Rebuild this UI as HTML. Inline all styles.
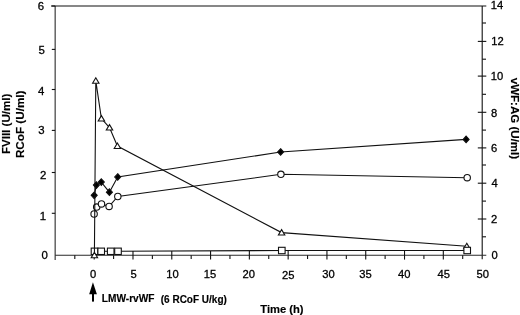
<!DOCTYPE html>
<html><head><meta charset="utf-8"><style>
html,body{margin:0;padding:0;background:#fff;}
svg{display:block;}
text{font-family:"Liberation Sans",sans-serif;fill:#000;stroke:#000;stroke-width:0.3px;}
text.b{stroke-width:0.15px;}
svg{will-change:transform;}
</style></head><body>
<svg width="520" height="315" viewBox="0 0 520 315">
<rect width="520" height="315" fill="#fff"/>
<g stroke="#111" stroke-width="1.1" fill="none">
<line x1="55.15" y1="6.0" x2="55.15" y2="260" stroke-width="1.1" stroke="#2a2a2a" />
<line x1="51" y1="6.0" x2="486.3" y2="6.0" />
<line x1="482.2" y1="6.0" x2="482.2" y2="259.2" />
<line x1="55.15" y1="255.25" x2="486.3" y2="255.25" stroke-width="1.15" stroke="#2a2a2a" />
<line x1="74.81" y1="255.25" x2="74.81" y2="258.9" />
<line x1="94.20" y1="251" x2="94.20" y2="259.6" />
<line x1="113.59" y1="255.25" x2="113.59" y2="258.9" />
<line x1="132.99" y1="251" x2="132.99" y2="259.6" />
<line x1="152.38" y1="255.25" x2="152.38" y2="258.9" />
<line x1="171.78" y1="251" x2="171.78" y2="259.6" />
<line x1="191.18" y1="255.25" x2="191.18" y2="258.9" />
<line x1="210.57" y1="251" x2="210.57" y2="259.6" />
<line x1="229.96" y1="255.25" x2="229.96" y2="258.9" />
<line x1="249.36" y1="251" x2="249.36" y2="259.6" />
<line x1="268.75" y1="255.25" x2="268.75" y2="258.9" />
<line x1="288.15" y1="251" x2="288.15" y2="259.6" />
<line x1="307.55" y1="255.25" x2="307.55" y2="258.9" />
<line x1="326.94" y1="251" x2="326.94" y2="259.6" />
<line x1="346.33" y1="255.25" x2="346.33" y2="258.9" />
<line x1="365.73" y1="251" x2="365.73" y2="259.6" />
<line x1="385.12" y1="255.25" x2="385.12" y2="258.9" />
<line x1="404.52" y1="251" x2="404.52" y2="259.6" />
<line x1="423.91" y1="255.25" x2="423.91" y2="258.9" />
<line x1="443.31" y1="251" x2="443.31" y2="259.6" />
<line x1="462.70" y1="255.25" x2="462.70" y2="258.9" />
<line x1="51.8" y1="6.0" x2="55.15" y2="6.0" />
<line x1="51.8" y1="49.4" x2="55.15" y2="49.4" />
<line x1="51.8" y1="89.5" x2="55.15" y2="89.5" />
<line x1="51.8" y1="130.4" x2="55.15" y2="130.4" />
<line x1="51.8" y1="172.5" x2="55.15" y2="172.5" />
<line x1="51.8" y1="213.3" x2="55.15" y2="213.3" />
<line x1="477.8" y1="41.4" x2="486.3" y2="41.4" />
<line x1="477.8" y1="76.1" x2="486.3" y2="76.1" />
<line x1="477.8" y1="112.3" x2="486.3" y2="112.3" />
<line x1="477.8" y1="147.9" x2="486.3" y2="147.9" />
<line x1="477.8" y1="183.2" x2="486.3" y2="183.2" />
<line x1="477.8" y1="219.0" x2="486.3" y2="219.0" />
<line x1="482.2" y1="23.0" x2="486" y2="23.0" />
<line x1="482.2" y1="59.2" x2="486" y2="59.2" />
<line x1="482.2" y1="94.3" x2="486" y2="94.3" />
<line x1="482.2" y1="130.1" x2="486" y2="130.1" />
<line x1="482.2" y1="165.0" x2="486" y2="165.0" />
<line x1="482.2" y1="201.1" x2="486" y2="201.1" />
<line x1="482.2" y1="236.8" x2="486" y2="236.8" />
<polyline fill="none" points="94.5,251.3 101.2,251.3 110.7,251.3 118.0,251.3 281.8,250.5 467.2,250.5" />
<rect x="91.20" y="248.10" width="6.6" height="6.4" fill="#fff" />
<polyline fill="none" points="94.1,214.0 96.7,207.1 101.5,203.9 109.1,206.4 117.8,196.5 280.9,174.3 467.2,177.7" />
<circle cx="94.1" cy="214.0" r="3.2" fill="#fff" />
<circle cx="96.7" cy="207.1" r="3.2" fill="#fff" />
<circle cx="101.5" cy="203.9" r="3.2" fill="#fff" />
<circle cx="109.1" cy="206.4" r="3.2" fill="#fff" />
<circle cx="117.8" cy="196.5" r="3.2" fill="#fff" />
<circle cx="280.9" cy="174.3" r="3.2" fill="#fff" />
<circle cx="467.2" cy="177.7" r="3.2" fill="#fff" />
<polyline fill="none" points="94.2,195.3 96.4,185.1 101.3,182.1 109.4,192.2 117.7,177.0 280.6,152.0 466.1,139.4" />
<polygon points="94.2,192.0 97.2,195.3 94.2,198.60000000000002 91.2,195.3" fill="#000" />
<polygon points="96.4,181.79999999999998 99.4,185.1 96.4,188.4 93.4,185.1" fill="#000" />
<polygon points="101.3,178.79999999999998 104.3,182.1 101.3,185.4 98.3,182.1" fill="#000" />
<polygon points="109.4,188.89999999999998 112.4,192.2 109.4,195.5 106.4,192.2" fill="#000" />
<polygon points="117.7,173.7 120.7,177.0 117.7,180.3 114.7,177.0" fill="#000" />
<polygon points="280.6,148.7 283.6,152.0 280.6,155.3 277.6,152.0" fill="#000" />
<polygon points="466.1,136.1 469.1,139.4 466.1,142.70000000000002 463.1,139.4" fill="#000" />
<polyline fill="none" points="94.4,255.3 95.8,80.8 101.4,118.6 109.5,127.6 117.4,146.0 281.6,232.6 466.8,246.3" />
<polygon points="94.4,252.33 97.60,257.73 91.20,257.73" fill="#fff" />
<polygon points="95.8,77.83 99.00,83.23 92.60,83.23" fill="#fff" />
<polygon points="101.4,115.63 104.60,121.03 98.20,121.03" fill="#fff" />
<polygon points="109.5,124.63 112.70,130.03 106.30,130.03" fill="#fff" />
<polygon points="117.4,143.03 120.60,148.43 114.20,148.43" fill="#fff" />
<polygon points="281.6,229.63 284.80,235.03 278.40,235.03" fill="#fff" />
<polygon points="466.8,243.33 470.00,248.73 463.60,248.73" fill="#fff" />
<rect x="97.90" y="248.10" width="6.6" height="6.4" fill="#fff" />
<rect x="107.40" y="248.10" width="6.6" height="6.4" fill="#fff" />
<rect x="114.70" y="248.10" width="6.6" height="6.4" fill="#fff" />
<rect x="278.50" y="247.30" width="6.6" height="6.4" fill="#fff" />
<rect x="463.90" y="247.30" width="6.6" height="6.4" fill="#fff" />
<polygon points="92.95,282.3 89.2,294.2 96.9,294.2" fill="#000" stroke="none" />
<rect x="92" y="293" width="2" height="8.6" fill="#000" stroke="none" />
</g>
<g>
<text id="l6" x="40.80" y="9.75" font-size="11.4" font-weight="normal" class="n" text-anchor="middle" >6</text>
<text id="l5" x="41.65" y="54.35" font-size="11.4" font-weight="normal" class="n" text-anchor="middle" >5</text>
<text id="l4" x="41.15" y="95.05" font-size="11.4" font-weight="normal" class="n" text-anchor="middle" >4</text>
<text id="l3" x="41.40" y="133.75" font-size="11.4" font-weight="normal" class="n" text-anchor="middle" >3</text>
<text id="l2" x="43.10" y="179.00" font-size="11.4" font-weight="normal" class="n" text-anchor="middle" >2</text>
<text id="l1" x="42.85" y="219.55" font-size="11.4" font-weight="normal" class="n" text-anchor="middle" >1</text>
<text id="l0" x="44.60" y="258.70" font-size="11.4" font-weight="normal" class="n" text-anchor="middle" >0</text>
<text id="r14" x="497.00" y="8.75" font-size="11.2" font-weight="normal" class="n" text-anchor="middle" >14</text>
<text id="r12" x="497.55" y="44.55" font-size="11.2" font-weight="normal" class="n" text-anchor="middle" >12</text>
<text id="r10" x="496.95" y="79.90" font-size="11.2" font-weight="normal" class="n" text-anchor="middle" >10</text>
<text id="r8" x="494.05" y="116.70" font-size="11.2" font-weight="normal" class="n" text-anchor="middle" >8</text>
<text id="r6" x="494.05" y="152.10" font-size="11.2" font-weight="normal" class="n" text-anchor="middle" >6</text>
<text id="r4" x="494.55" y="186.80" font-size="11.2" font-weight="normal" class="n" text-anchor="middle" >4</text>
<text id="r2" x="494.05" y="223.00" font-size="11.2" font-weight="normal" class="n" text-anchor="middle" >2</text>
<text id="r0" x="494.50" y="258.85" font-size="11.2" font-weight="normal" class="n" text-anchor="middle" >0</text>
<text id="x0" x="93.05" y="278.00" font-size="11.2" font-weight="normal" class="n" text-anchor="middle" >0</text>
<text id="x5" x="133.65" y="278.00" font-size="11.2" font-weight="normal" class="n" text-anchor="middle" >5</text>
<text id="x10" x="172.55" y="278.00" font-size="11.2" font-weight="normal" class="n" text-anchor="middle" >10</text>
<text id="x15" x="210.00" y="278.10" font-size="11.2" font-weight="normal" class="n" text-anchor="middle" >15</text>
<text id="x20" x="248.75" y="278.10" font-size="11.2" font-weight="normal" class="n" text-anchor="middle" >20</text>
<text id="x25" x="288.25" y="279.20" font-size="11.2" font-weight="normal" class="n" text-anchor="middle" >25</text>
<text id="x30" x="328.45" y="278.10" font-size="11.2" font-weight="normal" class="n" text-anchor="middle" >30</text>
<text id="x35" x="365.55" y="278.10" font-size="11.2" font-weight="normal" class="n" text-anchor="middle" >35</text>
<text id="x40" x="404.35" y="277.85" font-size="11.2" font-weight="normal" class="n" text-anchor="middle" >40</text>
<text id="x45" x="443.65" y="277.85" font-size="11.2" font-weight="normal" class="n" text-anchor="middle" >45</text>
<text id="x50" x="482.65" y="277.85" font-size="11.2" font-weight="normal" class="n" text-anchor="middle" >50</text>
<text id="yt1" x="0" y="0" transform="translate(10.45,123.90) rotate(-90)" font-size="11.55" font-weight="bold" class="b" text-anchor="middle" >FVIII (U/ml)</text>
<text id="yt2" x="0" y="0" transform="translate(23.85,124.30) rotate(-90)" font-size="11.7" font-weight="bold" class="b" text-anchor="middle" >RCoF (U/ml)</text>
<text id="yt3" x="0" y="0" transform="translate(510.85,118.45) rotate(90)" font-size="11.55" font-weight="bold" class="b" text-anchor="middle" >vWF:AG (U/ml)</text>
<text id="time" x="281.95" y="312.85" font-size="11.2" font-weight="bold" class="b" text-anchor="middle" >Time (h)</text>
<text id="lmw1" x="128.15" y="302.25" font-size="10.15" font-weight="bold" class="b" text-anchor="middle" >LMW-rvWF</text>
<text id="lmw2" x="193.80" y="302.55" font-size="10.0" font-weight="bold" class="b" text-anchor="middle" >(6 RCoF U/kg)</text>
</g>
</svg>
</body></html>
